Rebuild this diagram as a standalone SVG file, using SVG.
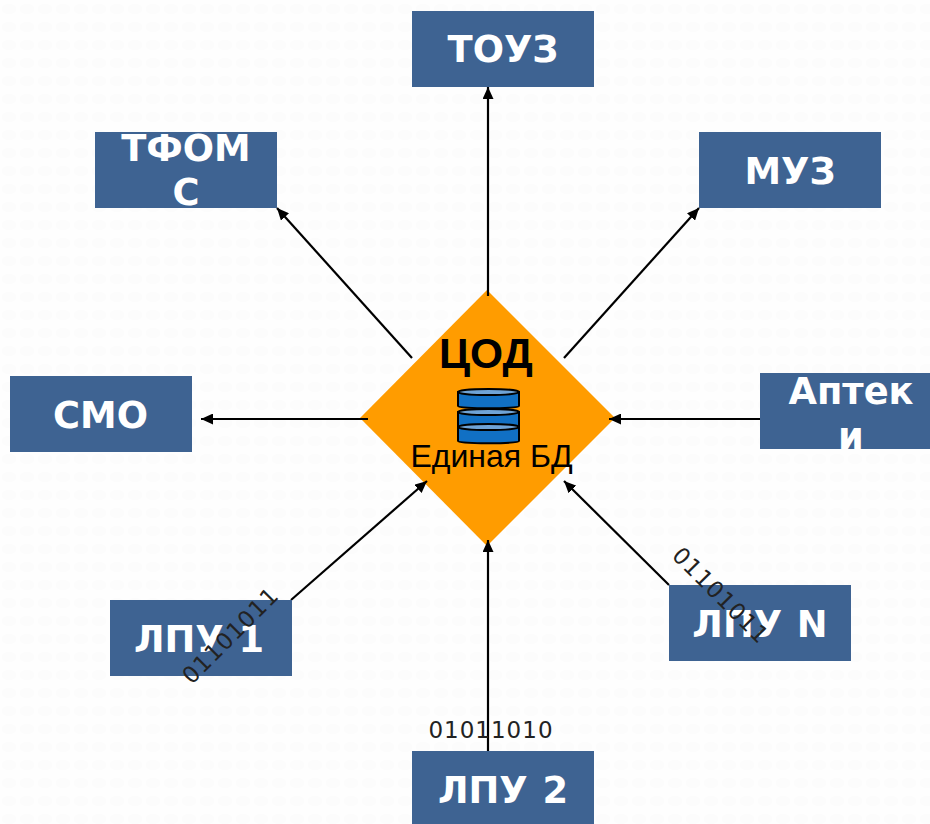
<svg xmlns="http://www.w3.org/2000/svg" width="930" height="824" viewBox="0 0 930 824">
<style>
.b{fill:#3e6392}
.t{font-family:"DejaVu Sans",sans-serif;font-weight:700;font-size:36.800px;word-spacing:2px;fill:#fff;text-anchor:middle}
.a{stroke:#000;stroke-width:2.200;fill:none;marker-end:url(#ah)}
.n{font-family:"DejaVu Sans",sans-serif;font-size:23px;letter-spacing:1px;fill:#222;text-anchor:middle}
.d{fill:#1170c4;stroke:#000;stroke-width:2}
.e{fill:#6fa3d6;stroke:#000;stroke-width:2}
</style>
<defs>
<marker id="ah" markerUnits="userSpaceOnUse" markerWidth="13" markerHeight="11" refX="12" refY="5.500" orient="auto"><path d="M0 0L12 5.500L0 11Z" fill="#000"/></marker>
<pattern id="bg" width="18" height="18" patternUnits="userSpaceOnUse"><rect width="18" height="18" fill="#fefefe"/><ellipse cx="9" cy="9" rx="7" ry="5" fill="#fcfcfc"/></pattern>
</defs>
<rect id="background" width="930" height="824" fill="url(#bg)"/>
<g id="node-cod">
<path d="M487 290L615 418L487 546L360 418Z" fill="#ff9c00"/>
<text x="486" y="368" font-family="'Liberation Sans',sans-serif" font-weight="700" font-size="42.500" text-anchor="middle" fill="#000">ЦОД</text>
<g>
<path class="d" d="M458 392V406C458 409 519 409 519 406V392Z"/><ellipse class="e" cx="488.500" cy="392" rx="30.500" ry="3"/>
<path class="d" d="M458 412V426C458 429 519 429 519 426V412Z"/><ellipse class="e" cx="488.500" cy="412" rx="30.500" ry="3"/>
<path class="d" d="M458 427V441C458 444 519 444 519 441V427Z"/><ellipse class="e" cx="488.500" cy="427" rx="30.500" ry="3"/>
</g>
<text x="491.500" y="467" font-family="'Liberation Sans',sans-serif" font-size="32" text-anchor="middle" fill="#000">Единая БД</text>
</g>
<g id="connectors">
<path class="a" d="M488 296V87"/>
<path class="a" d="M412 358L277 208"/>
<path class="a" d="M564 358L699 208"/>
<path class="a" d="M368 419H201"/>
<path class="a" d="M760 419H609"/>
<path class="a" d="M291 600L427 481"/>
<path class="a" d="M669 585L564 481"/>
<path class="a" d="M488 751V540"/>
</g>
<g id="node-touz"><rect class="b" x="412" y="11" width="182" height="76"/><text class="t" x="503" y="62">ТОУЗ</text></g>
<g id="node-tfoms"><rect class="b" x="95" y="132" width="182" height="76"/><text class="t" x="186" y="161">ТФОМ</text><text class="t" x="186" y="205">С</text></g>
<g id="node-muz"><rect class="b" x="699" y="132" width="182" height="76"/><text class="t" x="790" y="184">МУЗ</text></g>
<g id="node-smo"><rect class="b" x="10" y="376" width="182" height="76"/><text class="t" x="100.500" y="428">СМО</text></g>
<g id="node-apteki"><rect class="b" x="760" y="373" width="170" height="76"/><text class="t" x="851" y="404">Аптек</text><text class="t" x="851" y="449">и</text></g>
<g id="node-lpu1"><rect class="b" x="110" y="600" width="182" height="76"/><text class="t" x="199" y="652">ЛПУ 1</text></g>
<g id="node-lpun"><rect class="b" x="669" y="585" width="182" height="76"/><text class="t" x="760" y="637">ЛПУ N</text></g>
<g id="node-lpu2"><rect class="b" x="412" y="751" width="182" height="73"/><text class="t" x="503" y="803">ЛПУ 2</text></g>
<g id="labels">
<text class="n" x="491" y="738">01011010</text>
<text class="n" transform="translate(236 641) rotate(-45)">01101011</text>
<text class="n" transform="translate(715 601) rotate(45)">01101011</text>
</g>
</svg>
